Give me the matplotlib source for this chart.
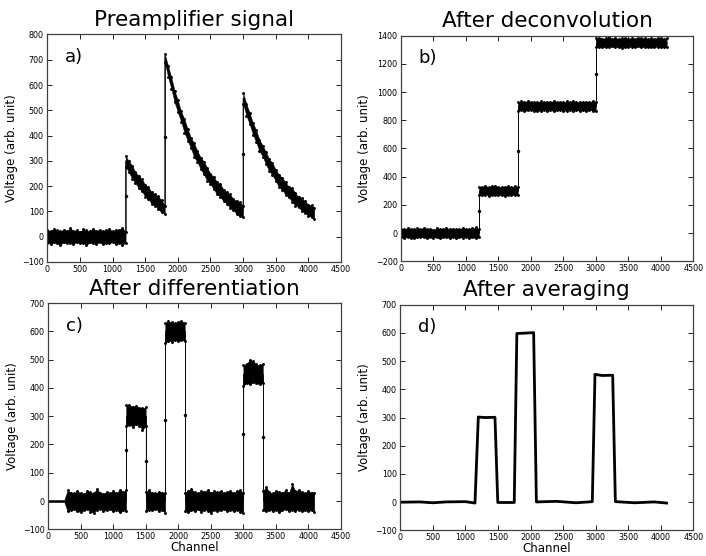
import numpy as np
import matplotlib
matplotlib.use("Agg")
import matplotlib.pyplot as plt

plt.rcParams['font.family'] = ['DejaVu Sans']
plt.rcParams['xtick.direction'] = 'in'
plt.rcParams['ytick.direction'] = 'in'
plt.rcParams['xtick.top'] = True
plt.rcParams['ytick.right'] = True
plt.rcParams['xtick.major.size'] = 3.5
plt.rcParams['ytick.major.size'] = 3.5
plt.rcParams['xtick.major.width'] = 0.6
plt.rcParams['ytick.major.width'] = 0.6
plt.rcParams['xtick.major.pad'] = 2
plt.rcParams['ytick.major.pad'] = 2.5
plt.rcParams['xtick.labelsize'] = 5.8
plt.rcParams['ytick.labelsize'] = 5.8
plt.rcParams['axes.linewidth'] = 0.9
plt.rcParams['axes.edgecolor'] = '0.25'

# channel grid (every 50 channels, last sample 4090)
chan = np.r_[np.arange(0, 4051, 50), 4090]

# ---- a) preamplifier signal
a_mid = ([0] * 24
         + [300, 277, 255, 235, 217, 200, 184, 170, 157, 144, 133, 123]
         + [713, 657, 606, 559, 515, 475, 438, 404, 372, 343, 316, 292,
            269, 248, 229, 211, 194, 179, 165, 152, 140, 129, 119, 110]
         + [548, 505, 466, 429, 396, 365, 337, 310, 286, 264, 243, 224,
            207, 191, 176, 162, 150, 138, 127, 117, 108, 100, 93])
a_up = [27, 22, 30, 25, 21, 28, 24, 33, 23, 26, 20, 29, 25, 22, 31, 24, 27, 21, 26, 30, 23, 25, 28, 35,
        18, 22, 26, 20, 24, 27, 21, 25, 19, 23, 26, 21,
        10, 20, 24, 19, 25, 21, 27, 22, 20, 26, 23, 21, 28, 24, 20, 25, 22, 29, 21, 24, 27, 20, 23, 25,
        22, 20, 24, 21, 26, 19, 23, 25, 21, 27, 22, 20, 26, 24, 21, 30, 23, 20, 25, 22, 19, 24, 21]
a_dn = [25, 29, 23, 27, 32, 22, 26, 24, 30, 21, 27, 25, 33, 23, 26, 28, 22, 30, 24, 27, 21, 29, 25, 33,
        24, 21, 27, 23, 25, 20, 26, 22, 28, 21, 24, 27,
        22, 25, 21, 27, 23, 20, 26, 24, 22, 28, 21, 25, 23, 27, 20, 24, 26, 22, 25, 21, 27, 24, 29, 30,
        23, 26, 21, 25, 22, 27, 20, 24, 26, 21, 23, 28, 22, 25, 20, 24, 27, 21, 25, 23, 26, 22, 24]
a_steps = [24, 36, 60]
a_before = [0, 113, 101]
a_jump_x = [1200, 1800, 3000]
a_jump_y = [160, 393, 325]

# ---- b) after deconvolution
b_mid = [0] * 24 + [300] * 12 + [900] * 24 + [1350] * 23
b_up = [32, 28, 35, 30, 26, 33, 29, 38, 27, 31, 25, 34, 30, 27, 36, 29, 32, 26, 31, 35, 28, 30, 33, 40,
        30, 27, 33, 28, 31, 35, 26, 30, 29, 32, 27, 34,
        28, 33, 30, 36, 27, 31, 29, 34, 26, 32, 30, 35, 28, 31, 27, 33, 29, 36, 30, 28, 32, 27, 31, 34,
        30, 35, 28, 32, 38, 29, 33, 27, 31, 36, 29, 32, 28, 34, 30, 33, 27, 31, 29, 35, 30, 28, 32]
b_dn = [30, 34, 28, 32, 37, 27, 31, 29, 35, 26, 32, 30, 38, 28, 31, 33, 27, 35, 29, 32, 26, 34, 30, 36,
        29, 32, 27, 34, 30, 28, 33, 29, 35, 27, 31, 30,
        32, 29, 35, 30, 27, 33, 31, 36, 28, 32, 29, 34, 30, 27, 33, 31, 28, 35, 29, 32, 30, 34, 28, 31,
        31, 28, 34, 29, 32, 27, 33, 30, 35, 28, 31, 29, 33, 27, 32, 30, 34, 28, 31, 29, 33, 30, 32]
b_steps = [24, 36, 60]
b_before = [0, 300, 900]
b_jump_x = [1200, 1800, 3000]
b_jump_y = [160, 585, 1130]

# ---- c) after differentiation
c_mid = [0] * 24 + [300] * 6 + [0] * 6 + [600] * 6 + [0] * 18 + [450] * 6 + [0] * 17
c_up = [4, 4, 4, 4, 4, 4, 38, 30, 27, 34, 29, 25, 36, 31, 28, 42, 30, 26, 33, 29, 35, 27, 40, 32,
        38, 41, 33, 36, 30, 28,
        32, 38, 29, 27, 33, 30,
        30, 35, 32, 28, 34, 37,
        30, 36, 44, 31, 28, 35, 33, 40, 29, 34, 31, 37, 28, 33, 36, 30, 34, 38,
        30, 36, 48, 44, 33, 30,
        35, 50, 31, 28, 36, 33, 30, 38, 29, 60, 34, 40, 31, 29, 35, 30, 27]
c_dn = [4, 4, 4, 4, 4, 4, 36, 32, 29, 35, 40, 31, 28, 38, 42, 30, 27, 34, 33, 29, 36, 31, 40, 33,
        34, 30, 37, 29, 33, 48,
        36, 30, 33, 28, 35, 31,
        42, 33, 37, 30, 34, 29,
        36, 40, 32, 35, 29, 38, 31, 34, 41, 30, 36, 33, 28, 37, 32, 35, 30, 38,
        44, 32, 36, 30, 34, 38,
        33, 37, 31, 35, 30, 39, 32, 29, 36, 31, 34, 30, 37, 32, 35, 33, 38]
c_steps = [24, 30, 36, 42, 60, 66]
c_before = [0, 300, 0, 600, 0, 450]
c_jump_x = [1200, 1500, 1800, 2100, 3000, 3300]
c_jump_y = [180, 140, 285, 305, 238, 225]

# ---- d) after averaging
d_x = [0, 300, 500, 700, 1000, 1147, 1198, 1300, 1454, 1497, 1750, 1790, 1900, 2048,
       2090, 2400, 2700, 2949, 2990, 3100, 3262, 3303, 3600, 3900, 4090]
d_y = [0, 1, -2, 1, 2, -3, 302, 300, 301, -1, -1, 598, 599, 601,
       1, 3, -2, 2, 453, 449, 450, 2, -2, 1, -3]

titles = ["Preamplifier signal", "After deconvolution", "After differentiation", "After averaging"]
letters = ["a)", "b)", "c)", "d)"]


def draw_noisy(ax, mid, up, dn, steps, before, jx, jy):
    up = np.asarray(up, float)
    dn = np.asarray(dn, float)
    x = np.insert(chan, steps, chan[steps])
    m = np.insert(np.asarray(mid, float), steps, before)
    u = np.insert(up, steps, up[steps])
    d = np.insert(dn, steps, dn[steps])
    ax.fill_between(x, m - d, m + u, color='k', lw=0.3)
    ax.plot(x, m, color='k', lw=0.6)
    noisy = u > 5
    ax.plot(x[noisy], (m + u)[noisy], 'k.', ms=2.2)
    ax.plot(x[noisy], (m - d)[noisy], 'k.', ms=2.2)
    ax.plot(jx, jy, 'k.', ms=3)


fig = plt.figure(figsize=(7.06, 5.56), dpi=100)
rects = [[0.067, 0.529, 0.416, 0.409],
         [0.568, 0.530, 0.414, 0.406],
         [0.068, 0.048, 0.415, 0.407],
         [0.567, 0.046, 0.415, 0.406]]
axs = [fig.add_axes(r) for r in rects]

draw_noisy(axs[0], a_mid, a_up, a_dn, a_steps, a_before, a_jump_x, a_jump_y)
draw_noisy(axs[1], b_mid, b_up, b_dn, b_steps, b_before, b_jump_x, b_jump_y)
draw_noisy(axs[2], c_mid, c_up, c_dn, c_steps, c_before, c_jump_x, c_jump_y)
axs[3].plot(d_x, d_y, color='k', lw=2.0)

axs[0].set_ylim(-100, 800)
axs[0].set_yticks(range(-100, 801, 100))
axs[1].set_ylim(-200, 1400)
axs[1].set_yticks(range(-200, 1401, 200))
for ax in axs[2:]:
    ax.set_ylim(-100, 700)
    ax.set_yticks(range(-100, 701, 100))
    ax.set_xlabel("Channel", fontsize=8.5, labelpad=0)

for ax, t, l in zip(axs, titles, letters):
    ax.set_xlim(0, 4500)
    ax.set_xticks(range(0, 4501, 500))
    ax.set_title(t, fontsize=15.5, pad=6)
    ax.set_ylabel("Voltage (arb. unit)", fontsize=8.5, labelpad=3)
    ax.text(0.06, 0.94, l, transform=ax.transAxes, fontsize=13, va='top')

fig.savefig("out.png", dpi=100, facecolor='white')
